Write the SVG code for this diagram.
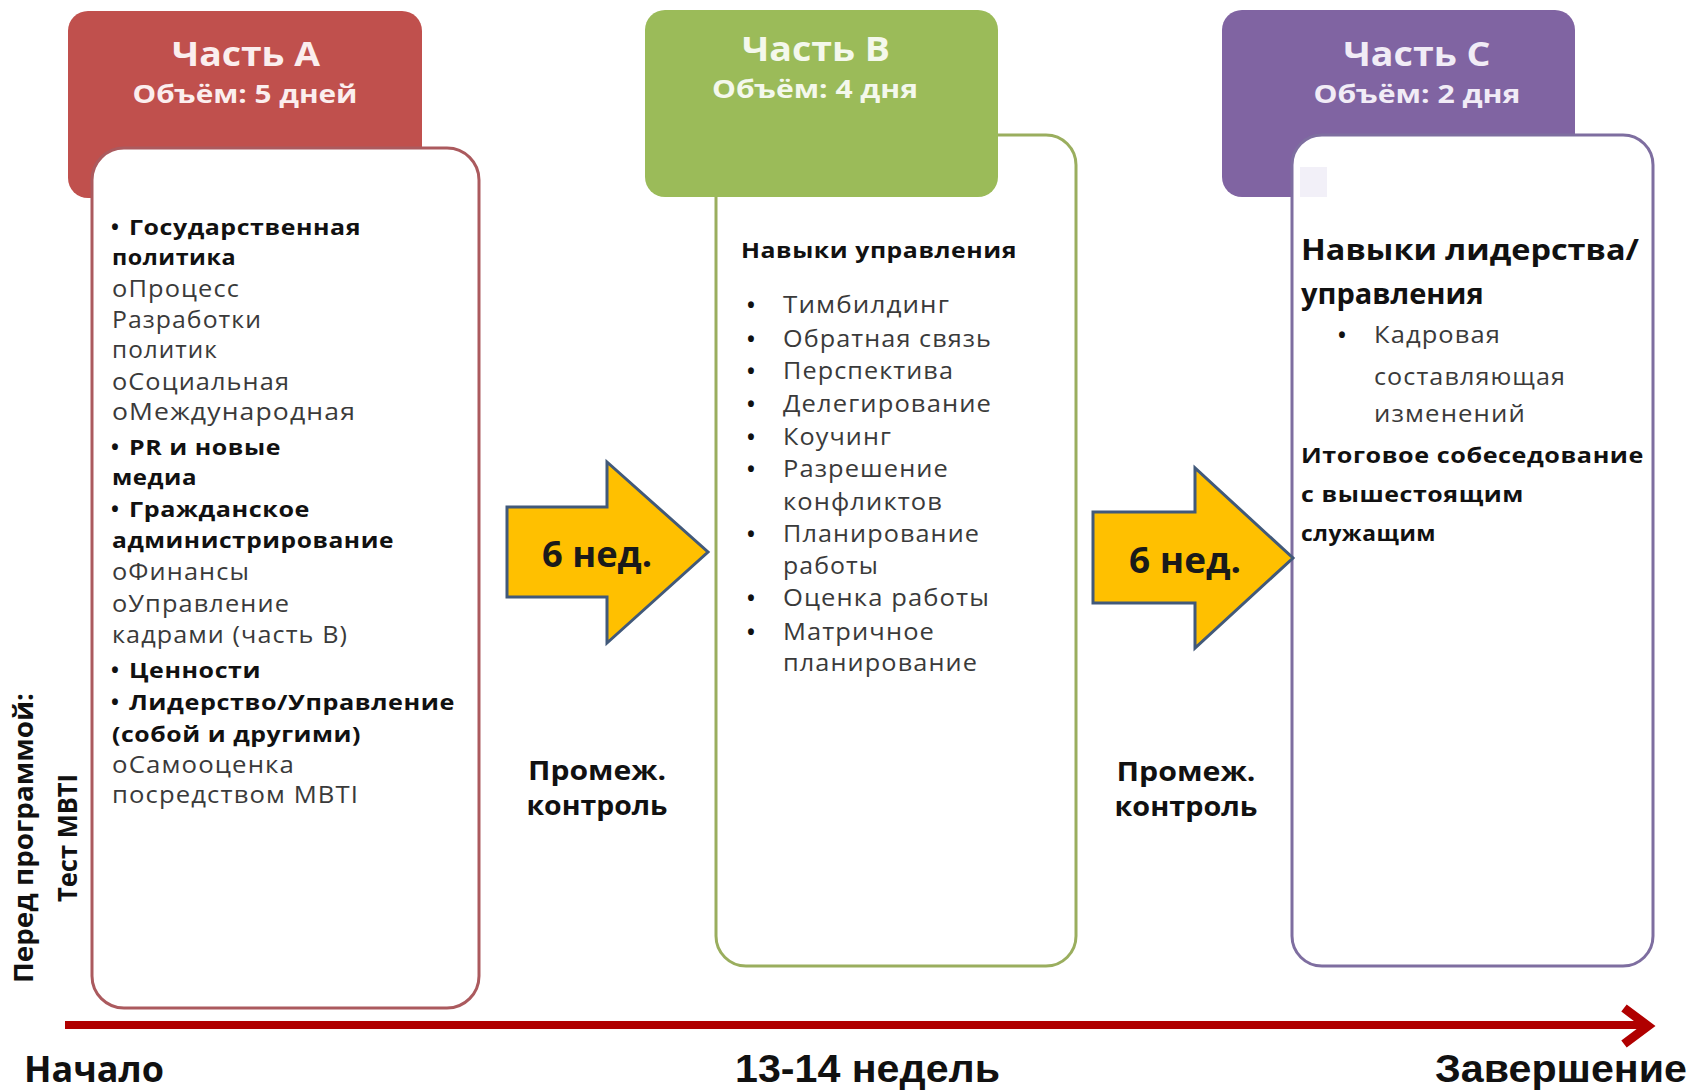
<svg xmlns="http://www.w3.org/2000/svg" width="1696" height="1090" viewBox="0 0 1696 1090">
<style>
  .hdrT{font-family:"Open Sans","Liberation Sans",sans-serif;font-weight:700;font-size:34px;text-anchor:middle}
  .hdrS{font-family:"Open Sans","Liberation Sans",sans-serif;font-weight:700;font-size:25px;text-anchor:middle}
  .reg{font-family:"Open Sans","Liberation Sans",sans-serif;font-size:23px;letter-spacing:1px;fill:#3a3a3a}
  .bld{font-family:"Open Sans","Liberation Sans",sans-serif;font-weight:700;font-size:22px;letter-spacing:0.5px;fill:#111}
  .bul{font-family:"Open Sans","Liberation Sans",sans-serif;font-weight:700;font-size:21px;fill:#111}
  .big{font-family:"Open Sans","Liberation Sans",sans-serif;font-weight:700;font-size:29px;fill:#111}
  .arrT{font-family:"Open Sans","Liberation Sans",sans-serif;font-weight:700;font-size:35px;fill:#1a1a1a;text-anchor:middle}
  .ctl{font-family:"Open Sans","Liberation Sans",sans-serif;font-weight:700;font-size:26px;fill:#111;text-anchor:middle}
  .vert{font-family:"Open Sans","Liberation Sans",sans-serif;font-weight:700;font-size:27px;fill:#111;text-anchor:middle}
  .bot{font-family:"Liberation Sans",sans-serif;font-weight:700;font-size:38px;fill:#111}
  .botO{font-family:"Open Sans","Liberation Sans",sans-serif;font-weight:700;font-size:36px;fill:#111}
  .arrow{fill:#ffc000;stroke:#41597a;stroke-width:3;stroke-linejoin:miter}
</style>
<rect x="0" y="0" width="1696" height="1090" fill="#ffffff"/>

<!-- Part A -->
<g id="partA">
  <rect x="68" y="11" width="354" height="187" rx="20" fill="#c0504d"/>
  <text class="hdrT" x="246" y="66" fill="#fbeeee" textLength="148" lengthAdjust="spacingAndGlyphs">Часть А</text>
  <text class="hdrS" x="245" y="103" fill="#fbeeee" textLength="225" lengthAdjust="spacingAndGlyphs">Объём: 5 дней</text>
  <rect x="92" y="148" width="387" height="860" rx="32" fill="#ffffff" stroke="#ab5a5e" stroke-width="3"/>
  <text class="bul" x="111" y="235">•</text>
  <text class="bld" x="129" y="235" textLength="232" lengthAdjust="spacingAndGlyphs">Государственная</text>
  <text class="bld" x="112" y="265" textLength="124" lengthAdjust="spacingAndGlyphs">политика</text>
  <text class="reg" x="112" y="297" textLength="128" lengthAdjust="spacingAndGlyphs">oПроцесс</text>
  <text class="reg" x="112" y="328" textLength="150" lengthAdjust="spacingAndGlyphs">Разработки</text>
  <text class="reg" x="112" y="358" textLength="106" lengthAdjust="spacingAndGlyphs">политик</text>
  <text class="reg" x="112" y="390" textLength="178" lengthAdjust="spacingAndGlyphs">oСоциальная</text>
  <text class="reg" x="112" y="420" textLength="244" lengthAdjust="spacingAndGlyphs">oМеждународная</text>
  <text class="bul" x="111" y="455">•</text>
  <text class="bld" x="129" y="455" textLength="152" lengthAdjust="spacingAndGlyphs">PR и новые</text>
  <text class="bld" x="112" y="485" textLength="85" lengthAdjust="spacingAndGlyphs">медиа</text>
  <text class="bul" x="111" y="517">•</text>
  <text class="bld" x="129" y="517" textLength="181" lengthAdjust="spacingAndGlyphs">Гражданское</text>
  <text class="bld" x="112" y="548" textLength="282" lengthAdjust="spacingAndGlyphs">администрирование</text>
  <text class="reg" x="112" y="580" textLength="138" lengthAdjust="spacingAndGlyphs">oФинансы</text>
  <text class="reg" x="112" y="612" textLength="178" lengthAdjust="spacingAndGlyphs">oУправление</text>
  <text class="reg" x="112" y="643" textLength="236" lengthAdjust="spacingAndGlyphs">кадрами (часть В)</text>
  <text class="bul" x="111" y="678">•</text>
  <text class="bld" x="129" y="678" textLength="132" lengthAdjust="spacingAndGlyphs">Ценности</text>
  <text class="bul" x="111" y="710">•</text>
  <text class="bld" x="129" y="710" textLength="326" lengthAdjust="spacingAndGlyphs">Лидерство/Управление</text>
  <text class="bld" x="112" y="742" textLength="249" lengthAdjust="spacingAndGlyphs">(собой и другими)</text>
  <text class="reg" x="112" y="773" textLength="183" lengthAdjust="spacingAndGlyphs">oСамооценка</text>
  <text class="reg" x="112" y="803" textLength="247" lengthAdjust="spacingAndGlyphs">посредством MBTI</text>
</g>

<!-- Part B -->
<g id="partB">
  <rect x="716" y="135" width="360" height="831" rx="30" fill="#ffffff" stroke="#9aae5e" stroke-width="3"/>
  <rect x="645" y="10" width="353" height="187" rx="20" fill="#9bbb59"/>
  <text class="hdrT" x="816" y="61" fill="#f4f8ec" textLength="148" lengthAdjust="spacingAndGlyphs">Часть В</text>
  <text class="hdrS" x="815" y="98" fill="#f4f8ec" textLength="206" lengthAdjust="spacingAndGlyphs">Объём: 4 дня</text>
  <text class="bld" x="741" y="258" font-size="21" textLength="276" lengthAdjust="spacingAndGlyphs">Навыки управления</text>
  <g class="bul">
    <text x="747" y="313">•</text>
    <text x="747" y="347">•</text>
    <text x="747" y="379">•</text>
    <text x="747" y="412">•</text>
    <text x="747" y="445">•</text>
    <text x="747" y="477">•</text>
    <text x="747" y="542">•</text>
    <text x="747" y="606">•</text>
    <text x="747" y="640">•</text>
  </g>
  <g class="reg">
    <text x="783" y="313" textLength="167" lengthAdjust="spacingAndGlyphs">Тимбилдинг</text>
    <text x="783" y="347" textLength="209" lengthAdjust="spacingAndGlyphs">Обратная связь</text>
    <text x="783" y="379" textLength="171" lengthAdjust="spacingAndGlyphs">Перспектива</text>
    <text x="783" y="412" textLength="209" lengthAdjust="spacingAndGlyphs">Делегирование</text>
    <text x="783" y="445" textLength="109" lengthAdjust="spacingAndGlyphs">Коучинг</text>
    <text x="783" y="477" textLength="166" lengthAdjust="spacingAndGlyphs">Разрешение</text>
    <text x="783" y="510" textLength="160" lengthAdjust="spacingAndGlyphs">конфликтов</text>
    <text x="783" y="542" textLength="197" lengthAdjust="spacingAndGlyphs">Планирование</text>
    <text x="783" y="574" textLength="96" lengthAdjust="spacingAndGlyphs">работы</text>
    <text x="783" y="606" textLength="207" lengthAdjust="spacingAndGlyphs">Оценка работы</text>
    <text x="783" y="640" textLength="152" lengthAdjust="spacingAndGlyphs">Матричное</text>
    <text x="783" y="671" textLength="195" lengthAdjust="spacingAndGlyphs">планирование</text>
  </g>
</g>

<!-- Part C -->
<g id="partC">
  <rect x="1222" y="10" width="353" height="187" rx="20" fill="#8064a2"/>
  <text class="hdrT" x="1417" y="66" fill="#f1ecf6" textLength="147" lengthAdjust="spacingAndGlyphs">Часть С</text>
  <text class="hdrS" x="1417" y="103" fill="#f1ecf6" textLength="207" lengthAdjust="spacingAndGlyphs">Объём: 2 дня</text>
  <rect x="1292" y="135" width="361" height="831" rx="30" fill="#ffffff" stroke="#7e6ea0" stroke-width="3"/>
  <rect x="1300" y="167" width="27" height="30" fill="#f2f0f8"/>
  <text class="big" x="1301" y="260" textLength="338" lengthAdjust="spacingAndGlyphs">Навыки лидерства/</text>
  <text class="big" x="1301" y="304">управления</text>
  <text class="bul" x="1338" y="343">•</text>
  <text class="reg" x="1374" y="343" textLength="127" lengthAdjust="spacingAndGlyphs">Кадровая</text>
  <text class="reg" x="1374" y="385" textLength="192" lengthAdjust="spacingAndGlyphs">составляющая</text>
  <text class="reg" x="1374" y="422" textLength="152" lengthAdjust="spacingAndGlyphs">изменений</text>
  <text class="bld" x="1301" y="463" textLength="343" lengthAdjust="spacingAndGlyphs">Итоговое собеседование</text>
  <text class="bld" x="1301" y="502" textLength="223" lengthAdjust="spacingAndGlyphs">с вышестоящим</text>
  <text class="bld" x="1301" y="541" textLength="135" lengthAdjust="spacingAndGlyphs">служащим</text>
</g>

<!-- Connectors -->
<g id="connectors">
  <polygon class="arrow" points="507,507 607,507 607,462 708,552 607,643 607,597 507,597"/>
  <polygon class="arrow" points="1093,512 1195,512 1195,468 1293,558 1195,648 1195,603 1093,603"/>
  <line x1="65" y1="1025" x2="1644" y2="1025" stroke="#b00000" stroke-width="8"/>
  <polyline points="1624,1008 1648,1026 1624,1044" fill="none" stroke="#b00000" stroke-width="9" stroke-linejoin="miter"/>
</g>

<g id="labels">
  <text class="arrT" x="597" y="567" textLength="110" lengthAdjust="spacingAndGlyphs">6 нед.</text>
  <text class="arrT" x="1185" y="573" textLength="112" lengthAdjust="spacingAndGlyphs">6 нед.</text>
  <text class="ctl" x="597" y="780" textLength="138" lengthAdjust="spacingAndGlyphs">Промеж.</text>
  <text class="ctl" x="597" y="815" textLength="141" lengthAdjust="spacingAndGlyphs">контроль</text>
  <text class="ctl" x="1186" y="781" textLength="139" lengthAdjust="spacingAndGlyphs">Промеж.</text>
  <text class="ctl" x="1186" y="816" textLength="143" lengthAdjust="spacingAndGlyphs">контроль</text>
  <text class="vert" transform="translate(33,838) rotate(-90)" textLength="290" lengthAdjust="spacingAndGlyphs">Перед программой:</text>
  <text class="vert" transform="translate(77,838) rotate(-90)" textLength="128" lengthAdjust="spacingAndGlyphs">Тест MBTI</text>
  <text class="botO" x="24" y="1082" textLength="140" lengthAdjust="spacingAndGlyphs">Начало</text>
  <text class="bot" x="735" y="1082" textLength="265" lengthAdjust="spacingAndGlyphs">13-14 недель</text>
  <text class="bot" x="1435" y="1082" textLength="252" lengthAdjust="spacingAndGlyphs">Завершение</text>
</g>
</svg>
